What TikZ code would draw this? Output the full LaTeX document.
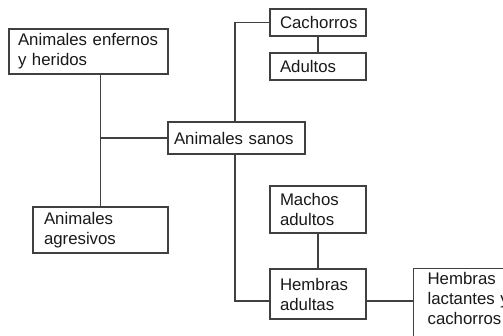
\documentclass[tikz,border=0pt]{standalone}
\usepackage{fontspec}
\setmainfont{Liberation Sans}
\begin{document}
\begin{tikzpicture}[
    x=1pt, y=-1pt,
    font=\fontsize{16.8}{20}\selectfont,
    box/.style={draw=black!75, line width=1.2pt, fill=white, text=black!90,
      align=left, inner xsep=10pt, inner ysep=0pt},
    link/.style={draw=black!75, line width=1.2pt},
  ]
  \useasboundingbox (0,0) rectangle (503,335);

  % left branch
  \node[box, inner xsep=9pt, text width=141pt, minimum height=45pt] (enfermos) at (88.5,51.5)
    {Animales enfernos\\y heridos};
  \node[box, inner xsep=11pt, text width=113pt, minimum height=46pt] (agresivos) at (100.5,230)
    {Animales\\agresivos};
  \node[box, inner xsep=6pt, text width=125pt, minimum height=32pt] (sanos) at (236.5,138)
    {Animales sanos};

  % right branch, top
  \node[box, text width=76pt, minimum height=27pt] (cachorros) at (318,22.5) {Cachorros};
  \node[box, text width=76pt, minimum height=27pt] (adultos) at (318,66.5) {Adultos};

  % right branch, bottom
  \node[box, text width=76pt, minimum height=47pt] (machos) at (318,209.5)
    {Machos\\adultos};
  \node[box, text width=76pt, minimum height=50pt] (hembras) at (318,294)
    {Hembras\\adultas};
  \node[box, anchor=north west, inner xsep=14.5pt, inner ysep=4pt, text width=100pt,
    text depth=50pt] (lactantes) at (412.5,267.5)
    {Hembras\\lactantes y\\cachorros};

  \coordinate (split) at (235,301);

  \draw[link] (agresivos.north |- enfermos.south) -- (agresivos.north);
  \draw[link] (sanos.west) -- (sanos.west -| agresivos.north);
  \draw[link] (cachorros.west) -| (split |- sanos.north);
  \draw[link] (split |- sanos.south) -- (split) -- (hembras.west |- split);
  \draw[link] (cachorros.south) -- (adultos.north);
  \draw[link] (machos.south) -- (hembras.north);
  \draw[link] (hembras.east |- split) -- (lactantes.west |- split);
\end{tikzpicture}
\end{document}
